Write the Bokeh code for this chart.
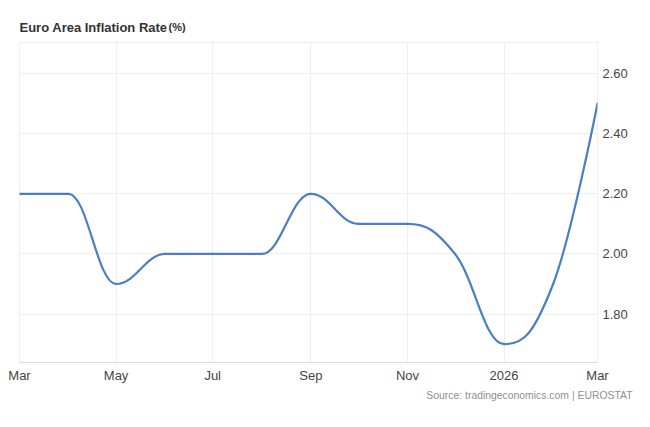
import numpy as np
from bokeh.plotting import figure
from bokeh.models import Range1d, FixedTicker, NumeralTickFormatter, Label, ColumnDataSource, Title
from bokeh.embed import file_html
from bokeh.resources import INLINE

# ---- data ----
months = ["2025-03-01", "2025-04-01", "2025-05-01", "2025-06-01", "2025-07-01",
          "2025-08-01", "2025-09-01", "2025-10-01", "2025-11-01", "2025-12-01",
          "2026-01-01", "2026-02-01", "2026-03-01"]
inflation = [2.2, 2.2, 1.9, 2.0, 2.0, 2.0, 2.2, 2.1, 2.1, 2.0, 1.7, 1.9, 2.5]
x_tick_dates = ["2025-03-01", "2025-05-01", "2025-07-01", "2025-09-01",
                "2025-11-01", "2026-01-01", "2026-03-01"]
x_tick_labels = ["Mar", "May", "Jul", "Sep", "Nov", "2026", "Mar"]
y_ticks = [1.8, 2.0, 2.2, 2.4, 2.6]
title_text = "Euro Area Inflation Rate"
unit_text = "(%)"
source_text = "Source: tradingeconomics.com | EUROSTAT"

FONT = "Liberation Sans"
LINE_COLOR = "#4a7fc3"
GRID_COLOR = "#efefef"
LABEL_COLOR = "#444444"

xs = np.array(months, dtype="datetime64[ms]").astype("int64").astype(float)
ys = np.array(inflation, dtype=float)
tick_ms = np.array(x_tick_dates, dtype="datetime64[ms]").astype("int64").astype(float)

# ---- spline control points (Highcharts-style smoothing of the data) ----
n = len(xs)
lcx = [None] * n; lcy = [None] * n; rcx = [None] * n; rcy = [None] * n
sm = 1.5
den = sm + 1
for i in range(1, n - 1):
    px, py = xs[i], ys[i]
    lx, ly = xs[i - 1], ys[i - 1]
    nx, ny = xs[i + 1], ys[i + 1]
    lcX = (sm * px + lx) / den
    lcY = (sm * py + ly) / den
    rcX = (sm * px + nx) / den
    rcY = (sm * py + ny) / den
    corr = 0.0
    if rcX != lcX:
        corr = ((rcY - lcY) * (rcX - px)) / (rcX - lcX) + py - rcY
    lcY += corr
    rcY += corr
    if lcY > ly and lcY > py:
        lcY = max(ly, py); rcY = 2 * py - lcY
    elif lcY < ly and lcY < py:
        lcY = min(ly, py); rcY = 2 * py - lcY
    if rcY > ny and rcY > py:
        rcY = max(ny, py); lcY = 2 * py - rcY
    elif rcY < ny and rcY < py:
        rcY = min(ny, py); lcY = 2 * py - rcY
    lcx[i], lcy[i], rcx[i], rcy[i] = lcX, lcY, rcX, rcY

seg = dict(x0=[], y0=[], x1=[], y1=[], cx0=[], cy0=[], cx1=[], cy1=[])
for i in range(n - 1):
    seg["x0"].append(xs[i]); seg["y0"].append(ys[i])
    seg["x1"].append(xs[i + 1]); seg["y1"].append(ys[i + 1])
    seg["cx0"].append(rcx[i] if rcx[i] is not None else xs[i])
    seg["cy0"].append(rcy[i] if rcy[i] is not None else ys[i])
    seg["cx1"].append(lcx[i + 1] if lcx[i + 1] is not None else xs[i + 1])
    seg["cy1"].append(lcy[i + 1] if lcy[i + 1] is not None else ys[i + 1])
src = ColumnDataSource(seg)

# ---- figure ----
p = figure(width=645, height=420, output_backend="svg", toolbar_location=None,
           x_axis_type="datetime", y_axis_location="right",
           x_range=Range1d(xs[0], xs[-1]), y_range=Range1d(1.639, 2.703),
           min_border_left=19, min_border_right=48, min_border_top=42,
           min_border_bottom=58)
p.title = None
p.background_fill_color = "white"
p.border_fill_color = "white"
p.outline_line_color = GRID_COLOR

p.bezier(x0="x0", y0="y0", x1="x1", y1="y1", cx0="cx0", cy0="cy0",
         cx1="cx1", cy1="cy1", source=src, line_color=LINE_COLOR,
         line_width=2.2, line_cap="round")

xa = p.xaxis[0]
xa.ticker = FixedTicker(ticks=list(tick_ms))
xa.major_label_overrides = {float(t): lab for t, lab in zip(tick_ms, x_tick_labels)}
xa.major_tick_in = 0
xa.major_tick_out = 0
xa.minor_tick_in = 0
xa.minor_tick_out = 0
xa.axis_line_color = "#dcdcdc"
xa.major_label_text_font = FONT
xa.major_label_text_font_size = "13px"
xa.major_label_text_color = LABEL_COLOR
xa.major_label_standoff = 5

ya = p.yaxis[0]
ya.ticker = FixedTicker(ticks=y_ticks)
ya.formatter = NumeralTickFormatter(format="0.00")
ya.major_tick_in = 0
ya.major_tick_out = 0
ya.minor_tick_in = 0
ya.minor_tick_out = 0
ya.axis_line_color = None
ya.major_label_text_font = FONT
ya.major_label_text_font_size = "13px"
ya.major_label_text_color = LABEL_COLOR
ya.major_label_standoff = 5

p.xgrid.grid_line_color = GRID_COLOR
p.ygrid.grid_line_color = GRID_COLOR
p.xgrid.ticker = FixedTicker(ticks=list(tick_ms))
p.ygrid.ticker = FixedTicker(ticks=y_ticks)

p.add_layout(Label(x=0, y=15, x_units="screen", y_units="screen", text=title_text,
                   text_font=FONT, text_font_size="13px", text_font_style="bold",
                   text_color="#333333", text_baseline="alphabetic"), "above")
p.add_layout(Label(x=149, y=1, x_units="screen", y_units="screen", text=unit_text,
                   text_font=FONT, text_font_size="11px", text_font_style="bold",
                   text_color="#333333", text_baseline="alphabetic"), "above")
p.add_layout(Title(text=source_text, align="right", text_font=FONT,
                   text_font_size="10.4px", text_font_style="normal",
                   text_color="#909090", offset=-35, standoff=4), "below")

open("out.html", "w").write(file_html(p, INLINE))
